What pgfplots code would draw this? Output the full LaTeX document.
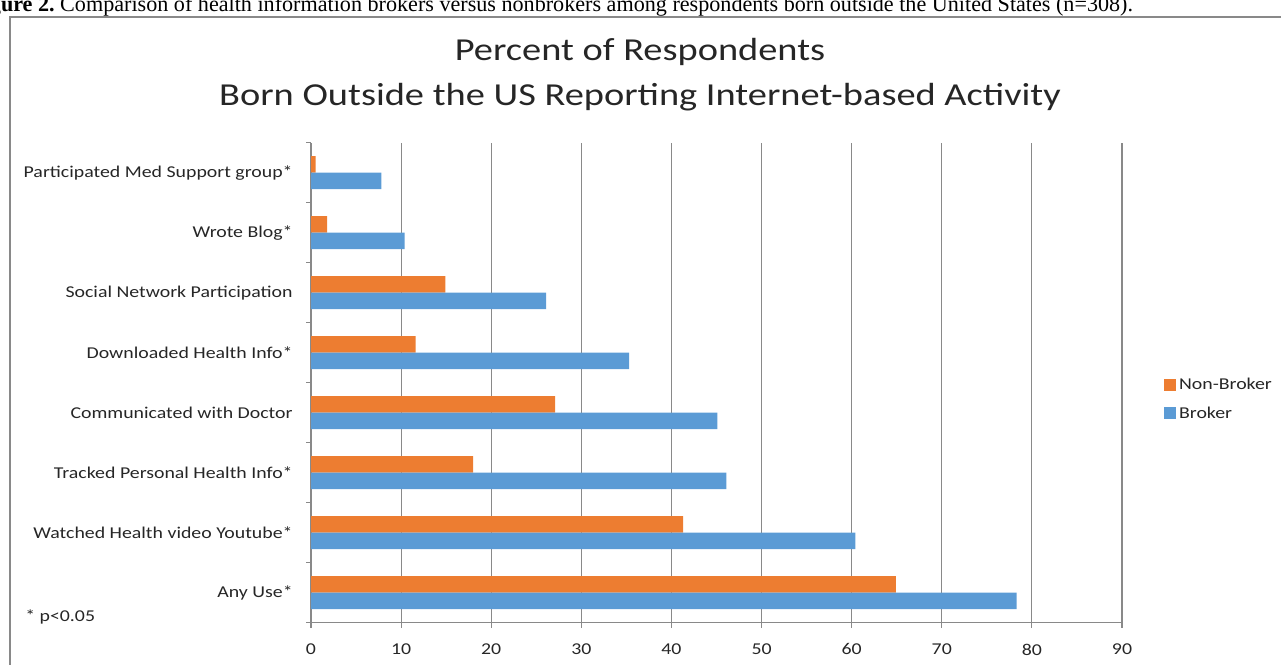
\documentclass[border=0pt]{standalone}
\usepackage{fontspec}
\setmainfont{Carlito}[FakeStretch=1.2]
\newfontfamily\capfont{Liberation Serif}
\usepackage{pgfplots}
\pgfplotsset{compat=1.18}
\definecolor{nbcol}{HTML}{ED7D31}
\definecolor{bcol}{HTML}{5B9BD5}
\definecolor{gridcol}{HTML}{898989}
\definecolor{txt}{HTML}{262626}

\begin{document}
\begin{tikzpicture}[x=0.75pt,y=0.75pt]
\useasboundingbox (0,0) rectangle (1281,664);
\clip (0,0) rectangle (1281,664);
% caption above the chart, cut at the top and left
\node[anchor=base west,inner sep=0,font=\capfont\fontsize{16.6pt}{19pt}\selectfont]
  at (-30,652) {\textbf{Figure 2.}\ Comparison of health information brokers versus nonbrokers among respondents born outside the United States (n=308).};
% chart frame
\draw[gridcol,line width=1.1pt] (10,-20) -- (10,647) -- (1300,647);
% title
\node[font=\fontsize{24pt}{28pt}\selectfont,text=txt] at (640,612) {Percent of Respondents};
\node[font=\fontsize{24pt}{28pt}\selectfont,text=txt] at (640,567) {Born Outside the US Reporting Internet-based Activity};
\node[anchor=west,inner sep=0,font=\fontsize{12.4pt}{14pt}\selectfont,text=txt] at (25,47) {* p<0.05};

\begin{axis}[
    at={(233.25pt,31pt)}, anchor=south west,
    scale only axis, width=608.25pt, height=360pt,
    xmin=0, xmax=90, ymin=-0.5, ymax=7.5,
    xbar, bar width=12.4pt,
    axis x line*=bottom, axis y line*=left,
    xtick={0,10,...,90},
    ytick={-0.5,0.5,...,7.5},
    yticklabels={Any Use*,Watched Health video Youtube*,Tracked Personal Health Info*,
      Communicated with Doctor,Downloaded Health Info*,Social Network Participation,
      Wrote Blog*,Participated Med Support group*,{}},
    y tick label style={yshift=22.5pt,xshift=-6.5pt},
    x tick label style={yshift=-8.5pt},
    tick align=outside, major tick length=3.75pt,
    tick style={gridcol,line width=0.9pt},
    axis line style={gridcol,line width=0.9pt},
    xmajorgrids, grid style={gridcol,line width=0.9pt},
    tick label style={font=\fontsize{12.4pt}{14pt}\selectfont,text=txt},
    /pgf/number format/assume math mode=true,
    legend style={at={(1.052,0.515)},anchor=north west,draw=none,fill=none,
      inner sep=0pt,row sep=7pt,font=\fontsize{12.4pt}{14pt}\selectfont,text=txt},
    legend cell align=left,
    legend image code/.code={\fill[#1] (0pt,-4.5pt) rectangle (9pt,4.5pt);},
]
\addplot[fill=nbcol,draw=none,bar shift=6.2pt] coordinates {
    (64.9,0) (41.3,1) (18.0,2) (27.1,3) (11.6,4) (14.9,5) (1.8,6) (0.5,7)
};
\addlegendentry{Non-Broker}
\addplot[fill=bcol,draw=none,bar shift=-6.2pt] coordinates {
    (78.3,0) (60.4,1) (46.1,2) (45.1,3) (35.3,4) (26.1,5) (10.4,6) (7.8,7)
};
\addlegendentry{Broker}
\end{axis}
\end{tikzpicture}
\end{document}
